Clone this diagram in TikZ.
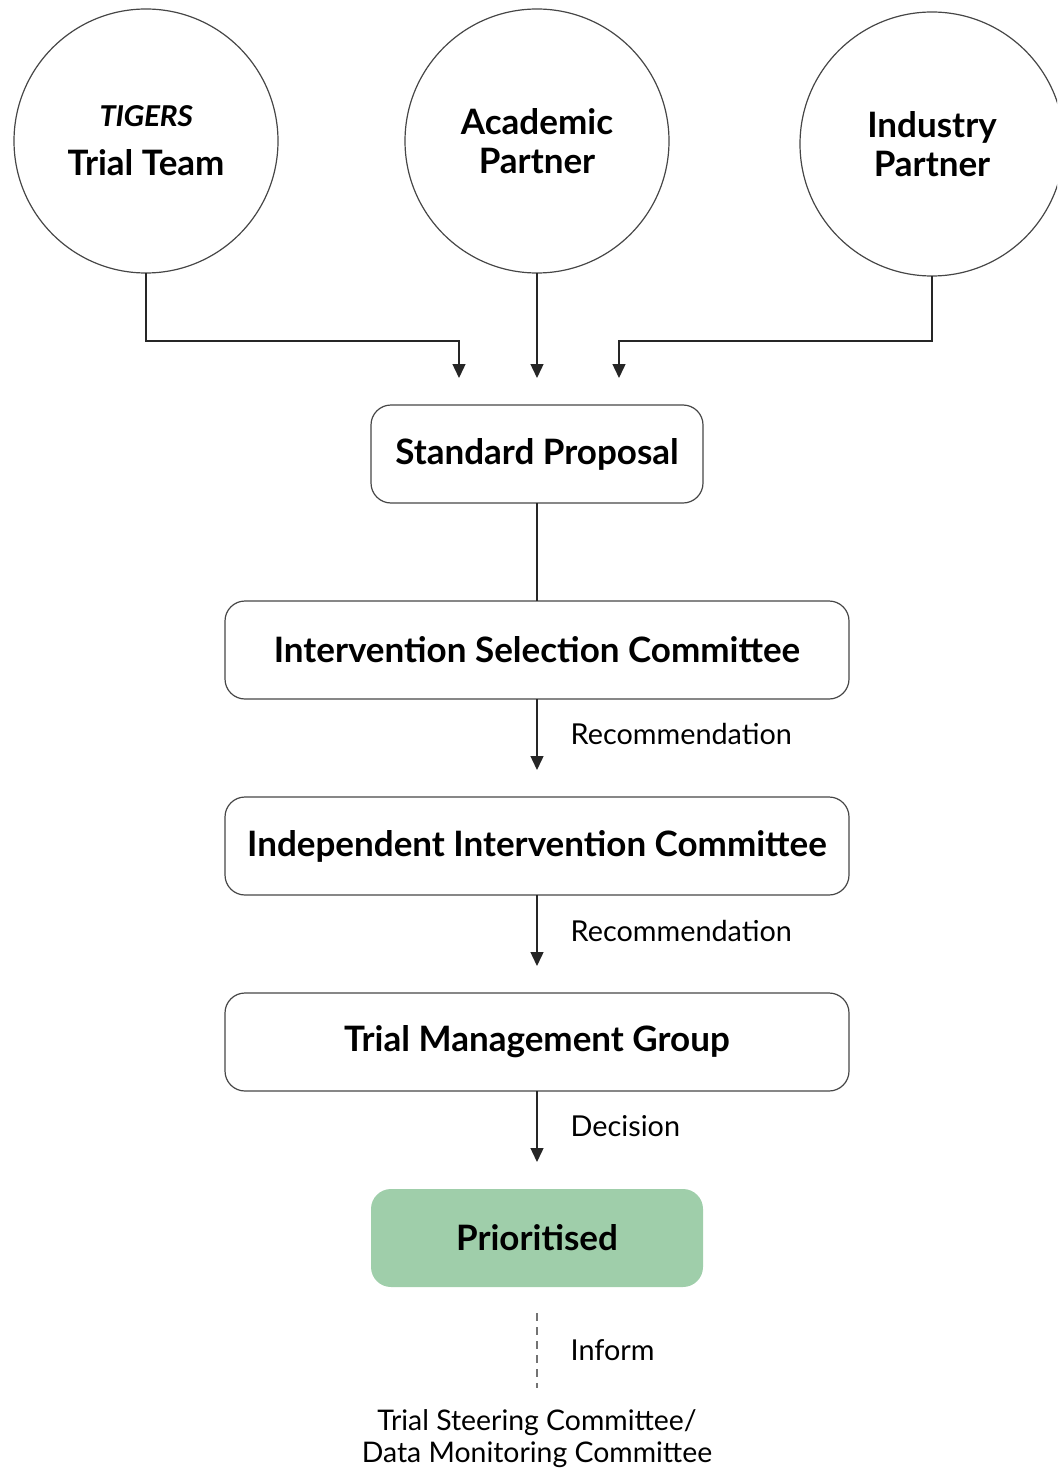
\documentclass[tikz,border=0pt]{standalone}
\usepackage{fontspec}
\setmainfont{Lato}
\newfontfamily\carlito{Carlito}
\usetikzlibrary{positioning,arrows.meta}
\definecolor{prioGreen}{RGB}{159,206,170}
\definecolor{edgeGray}{RGB}{70,70,70}

\begin{document}
\begin{tikzpicture}[x=0.5pt, y=-0.5pt,
    party/.style={circle, draw=edgeGray, line width=0.6pt, minimum size=132pt, outer sep=0pt,
        align=center, font=\fontsize{17.5}{19.5}\selectfont\bfseries},
    stage/.style={rectangle, rounded corners=10pt, draw=edgeGray, line width=0.6pt, minimum height=49pt,
        outer sep=0pt, font=\fontsize{17.5}{19.5}\selectfont\bfseries},
    flow/.style={draw=black!85, line width=0.7pt, -{Triangle[width=6.5pt,length=7pt]}},
    link/.style={draw=black!85, line width=0.7pt},
    inform/.style={draw=black!55, line width=0.7pt, dash pattern=on 4pt off 3pt},
    tag/.style={right=16.5pt, inner sep=0pt, font=\fontsize{14.4}{16}\selectfont},
    node distance=49pt]
    \path[use as bounding box, clip] (0,0) rectangle (1057,1471);

    \node[party] (tigers) at (146,141) {{\fontsize{16}{19.5}\carlito\bfseries\itshape TIGERS}\\[5pt]Trial Team};
    \node[party] (academic) at (537,141) {Academic\\Partner};
    \node[party] (industry) at (932,144) {Industry\\Partner};

    \node[stage, minimum width=166pt, below=66pt of academic] (proposal) {Standard Proposal};
    \node[stage, minimum width=312pt, below=of proposal] (isc) {Intervention Selection Committee};
    \node[stage, minimum width=312pt, below=of isc] (iic) {Independent Intervention Committee};
    \node[stage, minimum width=312pt, below=of iic] (tmg) {Trial Management Group};
    \node[stage, minimum width=166pt, draw=none, fill=prioGreen, below=of tmg] (prio) {Prioritised};
    \node[align=center, below=61pt of prio, inner sep=0pt, font=\fontsize{14.2}{16}\selectfont] (tsc)
        {Trial Steering Committee/\\Data Monitoring Committee};

    \coordinate (in-left) at ([xshift=-39pt, yshift=13.5pt]proposal.north);
    \coordinate (in-mid) at ([yshift=13.5pt]proposal.north);
    \coordinate (in-right) at ([xshift=41pt, yshift=13.5pt]proposal.north);
    \coordinate (to-iic) at ([yshift=13.5pt]iic.north);
    \coordinate (to-tmg) at ([yshift=13.5pt]tmg.north);
    \coordinate (to-prio) at ([yshift=13.5pt]prio.north);
    \coordinate (inform-top) at ([yshift=-13pt]prio.south);
    \coordinate (inform-bot) at ([yshift=-50.5pt]prio.south);

    \draw[flow] (tigers.south) -- ++(0,68) -| (in-left);
    \draw[flow] (academic.south) -- (in-mid);
    \draw[flow] (industry.south) -- ++(0,65) -| (in-right);
    \draw[link] (proposal) -- (isc);
    \draw[flow] (isc) -- node[tag] {Recommendation} (to-iic);
    \draw[flow] (iic) -- node[tag] {Recommendation} (to-tmg);
    \draw[flow] (tmg) -- node[tag] {Decision} (to-prio);
    \draw[inform] (inform-top) -- node[tag] {Inform} (inform-bot);
\end{tikzpicture}
\end{document}
